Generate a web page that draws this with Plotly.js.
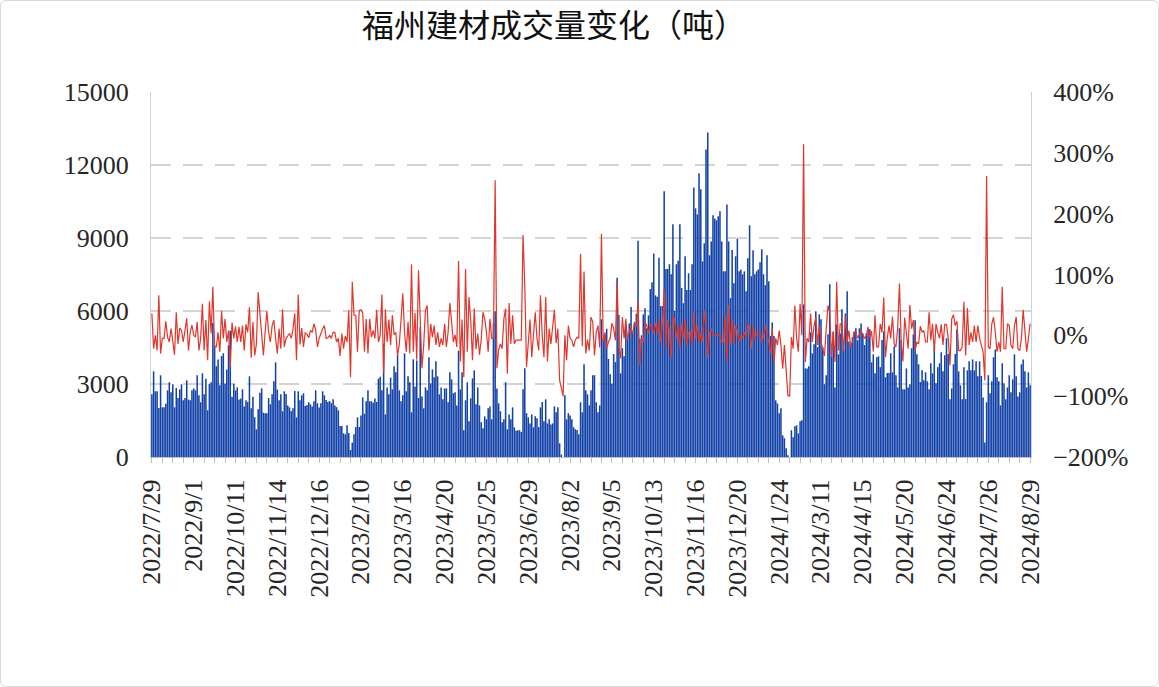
<!DOCTYPE html>
<html>
<head>
<meta charset="utf-8">
<script src="https://cdn.plot.ly/plotly-3.0.1.min.js"></script>
<style>
  html, body { margin: 0; padding: 0; background: #ffffff; }
  #wrap { position: relative; width: 1159px; height: 687px; }
  #chart { width: 1159px; height: 687px; }
  #wrap::after { content: ''; position: absolute; left: 0; top: 0; right: 0; bottom: 0;
    border: 1px solid #d9d9d9; border-radius: 6px; pointer-events: none; }
</style>
</head>
<body>
<div id="wrap"><div id="chart"></div></div>
<script>
// ---- Data ----
const chartTitle = '福州建材成交量变化（吨）';

const tickLabels = ['2022/7/29','2022/9/1','2022/10/11','2022/11/14','2022/12/16','2023/2/10',
  '2023/3/16','2023/4/20','2023/5/25','2023/6/29','2023/8/2','2023/9/5','2023/10/13','2023/11/16',
  '2023/12/20','2024/1/24','2024/3/11','2024/4/15','2024/5/20','2024/6/24','2024/7/26','2024/8/29'];

// daily traded volume (tonnes), left axis
const volume = [
  2576,3520,2700,2700,2014,3357,2041,2041,2190,2740,3070,2660,2990,2040,2835,2425,2780,2990,2330,2425,3150,2360,2330,2740,2820,2740,3357,2535,2250,3440,2576,3220,1920,3010,3070,5520,4590,3730,4010,2945,4150,4260,
  3010,3600,4590,5190,2480,3010,2740,2860,2360,2400,2780,2080,2330,2260,3315,2000,2480,1630,1140,1960,2640,2820,1820,1800,1800,2425,2165,2576,3110,3890,2770,2330,2576,1880,2700,2590,2120,2040,1880,2000,2710,1630,
  2700,2330,2535,2620,2100,2140,2250,2165,2080,2290,2740,2210,2030,2210,2700,2535,2340,2260,2300,2210,2370,2120,2050,1920,1270,1270,975,930,1300,985,290,590,930,1230,1630,1230,1710,2450,1780,2290,2740,2290,
  2290,2230,2400,2260,3220,3300,2740,4630,1750,2860,2575,3260,2780,3730,3480,4180,2740,2290,2535,4260,2700,3315,3070,1835,4015,2900,3970,2425,5330,2490,2000,2860,2740,4100,3030,3600,3275,3930,3315,2575,2860,2370,2820,
  2820,2250,3480,3190,2620,2660,2120,4370,2780,3480,1100,2330,3070,1470,2410,3230,3560,2165,2860,2120,1425,1180,1670,1550,2000,2080,1550,5490,5990,2820,2205,1880,1425,1550,3070,1140,1750,1550,2040,1220,1080,1100,
  1100,1030,2780,3645,1800,1630,1380,1750,1220,1670,1590,1230,2040,2260,1470,2370,1380,1550,1340,1380,2080,1835,2040,560,100,0,2535,1550,1800,1710,1550,1220,1140,1110,930,2250,1835,3810,2740,2575,2120,2740,3360,
  3360,2250,1835,2120,5660,4860,5070,5270,4030,3400,3015,4230,3900,7370,5840,3440,4470,4140,5340,4860,5490,6160,5120,5530,5880,8890,4860,5000,5860,6110,5290,5820,6900,7180,8360,6640,6590,8190,6200,6200,10920,7730,
  7730,7920,7510,9560,6000,7920,8060,9560,6950,6320,8250,6860,7550,6860,7920,11080,10220,9970,11660,11000,8040,8780,12640,13340,8290,8860,9930,9800,9730,9890,10100,8860,7630,7630,10380,8860,6530,8510,7140,8250,8960,7630,7710,
  7510,7630,6810,8170,9520,7430,8500,7510,7630,7710,8000,8540,7510,7060,8290,7220,4970,5530,4970,2330,2200,1800,2000,890,770,360,70,0,1100,810,1260,1300,970,1470,1510,6270,3640,3640,3730,5120,4260,4630,
  5990,4510,5860,5660,4510,2990,3360,5040,7100,4140,5160,2860,5450,4220,5080,6070,4420,5900,6810,4750,4590,4920,5160,5290,4800,5290,5490,5080,4600,5080,5250,5250,3890,4220,3440,4100,4140,3690,4810,5160,3275,3450,3450,
  4260,3480,4550,3360,2860,5290,4800,2780,2780,3640,2860,2990,4470,5040,5620,4220,3810,3080,3560,3150,3480,3110,2780,3850,3440,4510,3030,3690,3850,4300,3520,4180,4880,4230,2370,2820,3810,4230,5250,3520,2945,2370,
  3690,2380,3560,3930,3560,4010,3560,3930,3315,3930,3330,2450,600,2250,3360,2620,3110,4100,4420,3275,3110,2120,3850,3030,2370,2860,3360,2660,3190,4220,3315,2490,2660,3810,4010,3520,2860,3480,2945
];

// day-on-day change (%), right axis
const changePct = [
  36,-22,0,-25,66,-30,-5,-5,23,-3,-11,11,-10,-32,38,-14,12,8,-11,5,28,-25,5,17,0,-3,22,-25,-5,52,-25,25,-41,56,3,80,-19,-19,5,-27,40,-5,
  27,-11,8,-52,21,-5,15,-11,14,-11,16,-25,18,5,46,-37,22,-33,-14,71,33,0,-33,5,40,5,-11,16,25,-5,-30,11,-22,43,-19,-5,0,3,-5,10,36,-41,
  67,-15,12,-19,4,2,-4,8,5,19,9,-19,-5,5,11,16,-5,-4,0,-5,5,5,-11,-5,-34,3,-22,-1,-11,41,-69,88,33,33,-27,41,42,37,-27,27,-30,27,
  -3,8,-5,42,-11,0,67,-61,43,-11,26,-16,33,1,5,-34,-14,26,69,5,-27,22,-30,117,-27,37,-40,107,12,-54,-16,41,49,-25,19,-3,16,-16,5,-19,-5,-16,19,
  -19,5,53,22,-11,1,-19,122,-43,26,-69,109,-27,63,24,-41,44,-23,3,-32,-7,38,27,5,-27,27,-5,-5,255,-54,-24,-14,-22,27,44,-63,53,-14,33,-14,-8,-8,
  -8,-8,165,82,-52,-14,26,-36,11,38,-5,-25,66,0,-36,63,-43,11,-14,16,42,-13,11,-74,-90,-100,0,-41,16,-5,-8,-19,-8,-3,-5,134,-18,105,-30,-7,-25,30,22,
  -33,5,16,-20,167,-11,5,-22,-11,-5,20,11,-8,88,-20,-38,30,-5,27,-8,8,11,3,22,14,55,-49,-5,-11,22,16,3,19,11,3,21,3,27,-11,21,76,-22,
  25,8,-38,33,25,-5,16,-22,19,-5,27,-16,5,8,-16,38,-5,16,-11,3,-11,41,16,-38,3,11,-1,0,1,1,-1,-11,-11,33,-44,50,-16,27,-14,16,8,-11,0,
  -3,5,-5,19,16,-22,16,-5,3,5,7,-12,-3,16,3,-11,-30,11,-47,-5,-16,8,-16,-55,-16,-60,-99,-100,-3,-22,49,-5,-27,52,0,314,-44,-5,-11,36,-11,16,
  30,-16,16,-11,-22,-34,12,49,38,-34,5,-44,88,-25,19,19,-27,33,-11,8,-19,-11,5,5,-5,3,8,1,-5,0,14,-5,7,-27,33,-19,-19,19,5,62,-36,-5,16,
  -5,31,-14,-19,12,85,-8,-43,29,5,-22,50,11,25,-25,-11,-14,15,5,8,-11,-11,38,-8,19,-27,19,5,-5,18,-16,18,18,-5,-49,27,34,16,23,-25,-25,-19,
  55,-33,45,-16,5,-11,16,-11,16,-5,-16,-27,-74,262,-19,-22,19,30,5,-27,-11,-27,80,-22,-22,19,16,-16,-22,16,30,-22,-25,-5,42,11,-27,-5,19
];

// ---- Chart ----
const n = volume.length;
const xIdx = [];
for (let i = 0; i < n; i++) xIdx.push(i);
const step = (n - 1) / (tickLabels.length - 1);
const tickPos = tickLabels.map((_, k) => Math.round(k * step));

const axisFont = { family: 'Liberation Serif, "Times New Roman", serif', size: 26, color: '#262626' };

const traces = [
  { type: 'bar', x: xIdx, y: volume, yaxis: 'y', marker: { color: '#1342A8', line: { width: 0 } },
    hoverinfo: 'skip' },
  { type: 'scatter', mode: 'lines', x: xIdx, y: changePct.slice(0, n), yaxis: 'y2',
    line: { color: '#E0362C', width: 1.2 }, hoverinfo: 'skip' }
];

const layout = {
  width: 1159, height: 687,
  margin: { l: 151, r: 128, t: 92, b: 230, pad: 0 },
  paper_bgcolor: '#ffffff', plot_bgcolor: '#ffffff',
  showlegend: false,
  bargap: 0.12,
  title: { text: chartTitle, x: 0.478, xref: 'container', xanchor: 'center',
    y: 0.962, yref: 'container', yanchor: 'middle',
    font: { family: '"Noto Sans CJK SC", sans-serif', size: 32, color: '#111111' } },
  xaxis: {
    range: [-0.5, n - 0.5], tickmode: 'array', tickvals: tickPos, ticktext: tickLabels,
    tickangle: -90, tickfont: axisFont, ticks: 'outside', ticklen: 5, tickcolor: '#bfbfbf',
    showline: true, linecolor: '#bfbfbf', linewidth: 1, showgrid: false, zeroline: false,
    minor: { tickmode: 'linear', tick0: 0, dtick: 6, ticks: 'outside', ticklen: 5, tickcolor: '#bfbfbf' },
    ticklabelstandoff: 6
  },
  yaxis: {
    range: [0, 15000], tickmode: 'linear', tick0: 0, dtick: 3000, tickformat: 'd', tickfont: axisFont,
    showgrid: true, gridcolor: '#d4d4d4', gridwidth: 2, griddash: '20px,12px',
    zeroline: false, showline: true, linecolor: '#c8d2e4', linewidth: 1, ticks: '',
    ticklabelstandoff: 16
  },
  yaxis2: {
    range: [-200, 400], tickmode: 'linear', tick0: 0, dtick: 100, ticksuffix: '%',
    tickfont: axisFont, overlaying: 'y', side: 'right', showgrid: false, zeroline: false,
    showline: true, linecolor: '#c8d2e4', linewidth: 1, ticks: '', ticklabelstandoff: 16
  }
};

Plotly.newPlot('chart', traces, layout, { staticPlot: true, displayModeBar: false });
</script>
</body>
</html>
